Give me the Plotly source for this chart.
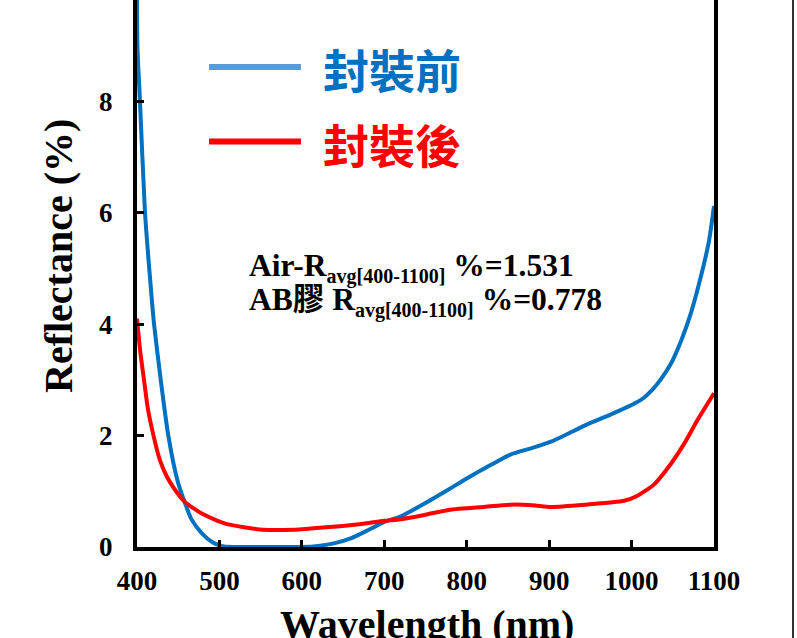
import plotly.graph_objects as go

# ---------------- data ----------------
wl_before = [400, 400.5, 403.6, 409.7, 416, 420.7, 428.8, 438, 449, 457, 466, 479, 492, 505, 530,
             560, 600, 620, 640, 660, 680, 700, 720, 750, 780, 800, 830, 853, 880, 902, 943,
             975, 1003, 1015, 1025, 1035, 1048, 1060, 1072, 1084, 1094, 1100]
r_before = [10.3, 9.0, 8.0, 6.0, 4.79, 4.0, 3.0, 2.0, 1.2, 0.84, 0.50, 0.24, 0.08, 0.01, 0.0,
            0.0, 0.0, 0.02, 0.07, 0.16, 0.30, 0.45, 0.55, 0.79, 1.05, 1.23, 1.48, 1.66, 1.78, 1.89, 2.18,
            2.38, 2.57, 2.68, 2.82, 3.0, 3.3, 3.7, 4.2, 4.85, 5.5, 6.12]

wl_after = [400, 404, 408.5, 413, 420, 428, 436, 445, 458, 478.6, 507, 553, 590, 634,
            670, 700, 720, 750, 780, 820, 853, 880, 902, 943, 991, 1006, 1027, 1048,
            1064, 1080, 1100]
r_after = [4.1, 3.5, 3.0, 2.5, 2.0, 1.55, 1.27, 1.05, 0.81, 0.60, 0.42, 0.31, 0.31, 0.36,
           0.41, 0.47, 0.50, 0.58, 0.67, 0.72, 0.76, 0.75, 0.72, 0.76, 0.83, 0.91, 1.12, 1.50,
           1.86, 2.28, 2.76]

series_names = ["封裝前", "封裝後"]
series_colors = ["#0070C0", "#FF0000"]
legend_line_colors = ["#5B9BD5", "#FF0000"]

x_ticks = [400, 500, 600, 700, 800, 900, 1000, 1100]
y_ticks = [0, 2, 4, 6, 8]

note_prefix = ["Air-R", "AB膠 R"]
note_sub = "avg[400-1100]"
note_values = ["%=1.531", "%=0.778"]
x_title = "Wavelength (nm)"
y_title = "Reflectance (%)"

# ---------------- layout helpers ----------------
W, H = 797, 638
L, R, T, B = 137, 83, 0, 91
PW, PH = W - L - R, H - T - B


def px(x):
    return (x - L) / PW


def py(y):
    return (H - B - y) / PH


SERIF = "Liberation Serif, Times New Roman, Noto Sans CJK TC, serif"
CJK = "Noto Sans CJK TC, Noto Sans CJK SC, sans-serif"

fig = go.Figure()
fig.add_trace(go.Scatter(x=wl_before, y=r_before, mode="lines", name=series_names[0],
                         line=dict(color=series_colors[0], width=4, shape="spline", smoothing=0.6),
                         showlegend=False))
fig.add_trace(go.Scatter(x=wl_after, y=r_after, mode="lines", name=series_names[1],
                         line=dict(color=series_colors[1], width=4, shape="spline", smoothing=0.6),
                         showlegend=False))

shapes = []
annotations = []
# custom legend
leg_y = [67, 141.5]
leg_text_y = [67.5, 143]
for i in range(2):
    shapes.append(dict(type="line", xref="paper", yref="paper",
                       x0=px(209), x1=px(301), y0=py(leg_y[i]), y1=py(leg_y[i]),
                       line=dict(color=legend_line_colors[i], width=6)))
    annotations.append(dict(xref="paper", yref="paper", x=px(392), y=py(leg_text_y[i]),
                            xanchor="center", yanchor="middle", showarrow=False,
                            text=series_names[i],
                            font=dict(family=CJK, size=46, color=series_colors[i], weight="bold")))

# notes
note_y = [268, 302]
for i in range(2):
    t = (note_prefix[i] + "<sub><span style='font-size:20px'>" + note_sub + "</span></sub> "
         + note_values[i])
    annotations.append(dict(xref="paper", yref="paper", x=px(247), y=py(note_y[i]),
                            xanchor="left", yanchor="middle", showarrow=False, text=t,
                            font=dict(family=SERIF, size=31.5, color="black", weight="bold")))

# axis titles
annotations.append(dict(xref="paper", yref="paper", x=px(58), y=py(256), textangle=-90,
                        xanchor="center", yanchor="middle", showarrow=False, text=y_title,
                        font=dict(family=SERIF, size=40, color="black", weight="bold")))
annotations.append(dict(xref="paper", yref="paper", x=px(427), y=py(624),
                        xanchor="center", yanchor="middle", showarrow=False, text=x_title,
                        font=dict(family=SERIF, size=40, color="black", weight="bold")))

# outer frame line at right
shapes.append(dict(type="line", xref="paper", yref="paper", x0=px(793), x1=px(793), y0=py(0), y1=py(H),
                   line=dict(color="#333333", width=2)))

fig.update_layout(
    width=W, height=H, autosize=False,
    margin=dict(l=L, r=R, t=T, b=B, pad=0),
    paper_bgcolor="white", plot_bgcolor="white",
    shapes=shapes, annotations=annotations, showlegend=False,
)
fig.update_xaxes(range=[400, 1100], tickvals=x_ticks, ticktext=[str(v) for v in x_ticks],
                 showgrid=False, zeroline=False, showline=True, linecolor="black", linewidth=4,
                 mirror=False, ticks="inside", ticklen=7, tickwidth=3, tickcolor="black",
                 ticklabelstandoff=7,
                 tickfont=dict(family=SERIF, size=27, color="black", weight="bold"))
fig.update_yaxes(range=[0, 9.82], tickvals=y_ticks, ticktext=[str(v) for v in y_ticks],
                 showgrid=False, zeroline=False, showline=True, linecolor="black", linewidth=4,
                 mirror=True, ticks="inside", ticklen=7, tickwidth=3, tickcolor="black",
                 ticklabelstandoff=15,
                 tickfont=dict(family=SERIF, size=27, color="black", weight="bold"))

fig.write_html("out.html")
